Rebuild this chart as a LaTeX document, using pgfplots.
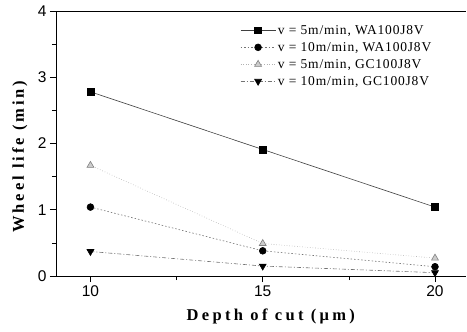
\documentclass[border=0pt]{standalone}
\usepackage{fontspec}
\setmainfont{Liberation Serif}
\newfontfamily\sansf{Liberation Sans}
\usepackage{pgfplots}
\pgfplotsset{compat=1.18}
\begin{document}
\begin{tikzpicture}
\begin{axis}[name=a, scale only axis, width=410pt, height=265pt,
  xmin=9, xmax=20.9, ymin=0, ymax=4,
  axis x line=box, axis y line=left,
  x axis line style={-}, y axis line style={-},
  xtick={10,15,20}, ytick={0,1,2,3,4},
  minor x tick num=1, minor y tick num=1,
  tick align=outside, xtick pos=bottom, ytick pos=left,
  major tick length=6pt, minor tick length=4pt,
  tick style={black, line width=0.6pt},
  axis line style={line width=0.8pt},
  /pgf/number format/assume math mode=true,
  ticklabel style={font=\sansf\fontsize{15.5}{15.5}\selectfont},
  xlabel={Depth of cut (μm)},
  ylabel={Wheel life (min)},
  xlabel style={at={(axis description cs:0.524,-0.151)}, anchor=center,
    font=\bfseries\fontsize{16.5}{16.5}\selectfont\addfontfeature{LetterSpace=20}},
  ylabel style={at={(axis description cs:-0.088,0.45)}, anchor=center,
    font=\bfseries\fontsize{16.5}{16.5}\selectfont\addfontfeature{LetterSpace=18}},
  legend style={at={(axis description cs:0.449,0.955)}, anchor=north west,
    draw=none, fill=none, inner sep=0pt, row sep=2.5pt,
    font=\fontsize{13.5}{13.5}\selectfont\addfontfeature{LetterSpace=6}},
  legend cell align=left,
  legend image code/.code={\draw[mark repeat=2,mark phase=2] plot coordinates {(0pt,0pt)(17.5pt,0pt)(35pt,0pt)};},
]
\addplot[black!75, line width=0.6pt, mark=square*, mark size=3.4pt, mark options={solid, fill=black, draw=black}]
  coordinates {(10,2.78)(15,1.91)(20,1.04)};
\addlegendentry{v = 5m/min, WA100J8V}
\addplot[black!55, line width=0.6pt, dash pattern=on 1.5pt off 2pt, mark=*, mark size=3.4pt, mark options={solid, fill=black, draw=black}]
  coordinates {(10,1.04)(15,0.38)(20,0.14)};
\addlegendentry{v = 10m/min, WA100J8V}
\addplot[black!30, line width=0.6pt, dotted, mark=triangle*, mark size=4pt, mark options={solid, fill=black!20, draw=black!50}]
  coordinates {(10,1.67)(15,0.49)(20,0.27)};
\addlegendentry{v = 5m/min, GC100J8V}
\addplot[black!55, line width=0.6pt, dash pattern=on 4pt off 2pt on 1pt off 2pt, mark=triangle*, mark size=4pt, mark options={solid, rotate=180, fill=black, draw=black}]
  coordinates {(10,0.37)(15,0.15)(20,0.05)};
\addlegendentry{v = 10m/min, GC100J8V}
\end{axis}
\pgfresetboundingbox
\path[use as bounding box] ([xshift=-56pt,yshift=-55pt]a.south west) rectangle ([xshift=1pt,yshift=11pt]a.north east);
\end{tikzpicture}
\end{document}
